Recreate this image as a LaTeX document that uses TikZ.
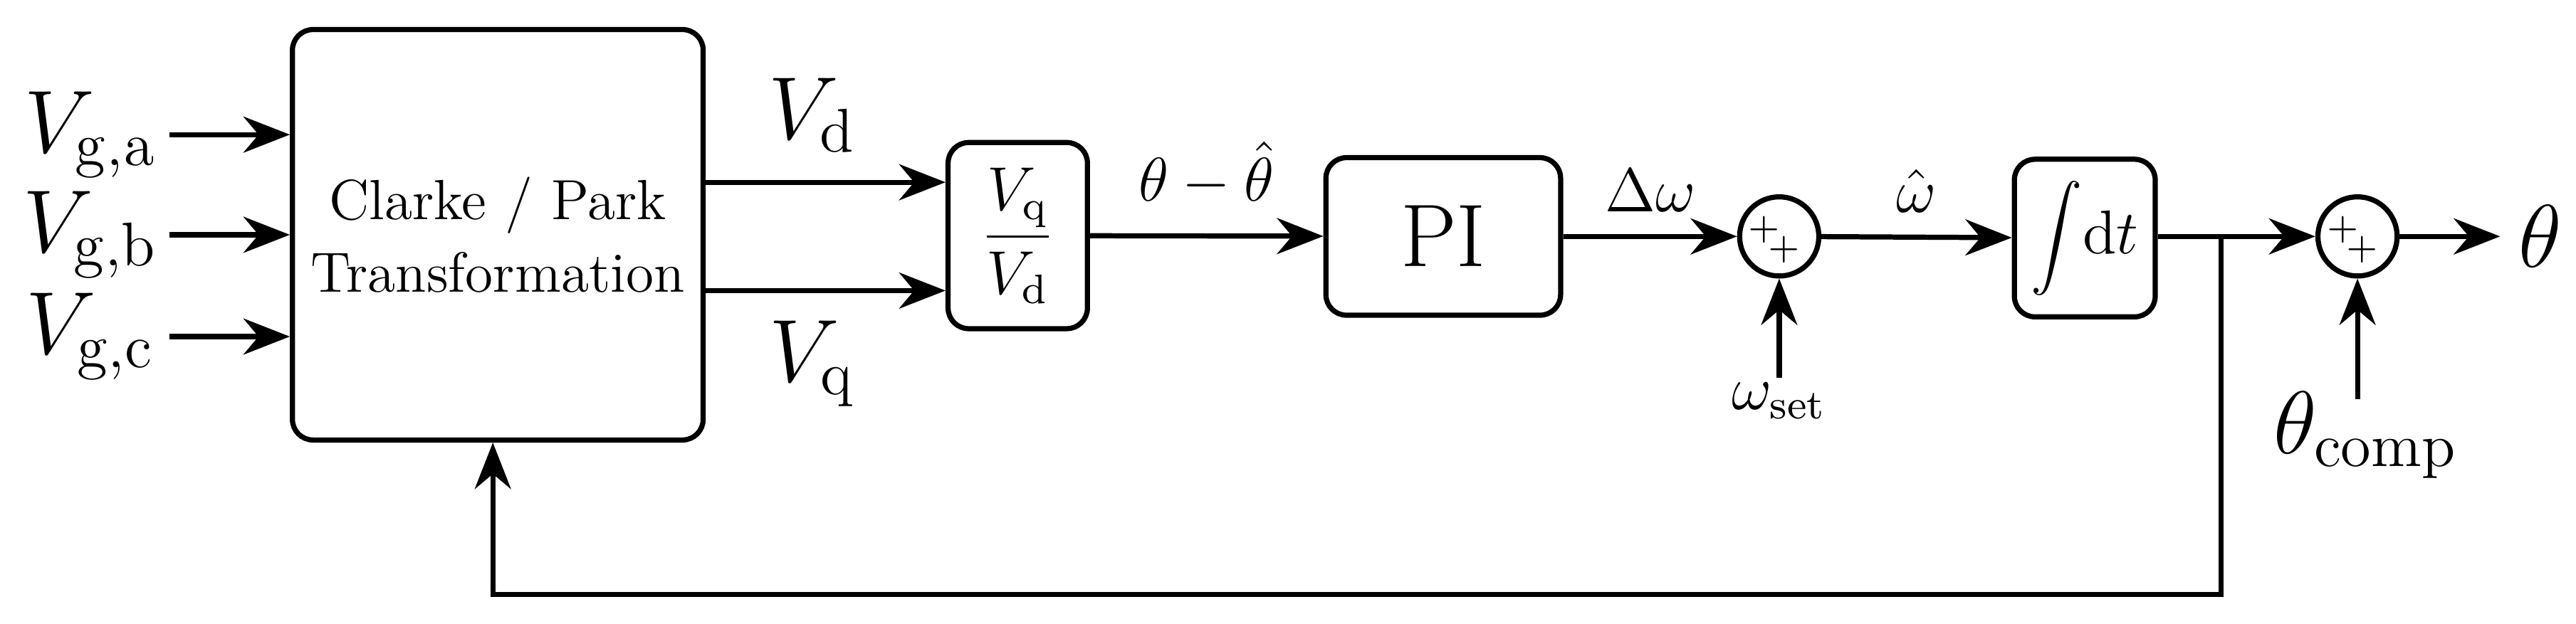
\documentclass[tikz,border=0pt]{standalone}
\usetikzlibrary{arrows.meta}
\begin{document}
\begin{tikzpicture}[x=0.0112cm,y=-0.0112cm,>={Stealth[length=9pt,width=7pt]},
  blk/.style={draw,line width=1pt,rounded corners=4pt,inner sep=0},
  sum/.style={draw,line width=1pt,circle,minimum size=0.54cm,inner sep=0},
  ln/.style={line width=1pt}]
\useasboundingbox (0,0) rectangle (1568,380);
\node[blk,minimum width=2.8cm,minimum height=2.8cm,align=center,font=\fontsize{11}{14}\selectfont] (cp) at (303,143) {Clarke / Park\\Transformation};
\node[blk,minimum width=0.95cm,minimum height=1.27cm] (fr) at (619.5,143.5) {\large$\displaystyle\frac{V_\mathrm{q}}{V_\mathrm{d}}$};
\node[blk,minimum width=1.6cm,minimum height=1.075cm] (pi) at (878.5,144) {\LARGE PI};
\node[sum] (s1) at (1083,144) {};
\node[blk,minimum width=0.96cm,minimum height=1.075cm] (int) at (1269,145) {\large$\displaystyle\int\!\mathrm{d}t$};
\node[sum] (s2) at (1435,144) {};
\foreach \s in {s1,s2}{
  \node[font=\scriptsize,inner sep=0] at ([shift={(-9,-4)}]\s.center) {$+$};
  \node[font=\scriptsize,inner sep=0] at ([shift={(3,8)}]\s.center) {$+$};}
\node[font=\LARGE] (va) at (55,82) {$V_{\mathrm{g,a}}$};
\node[font=\LARGE] (vb) at (55,143) {$V_{\mathrm{g,b}}$};
\node[font=\LARGE] (vc) at (55,205) {$V_{\mathrm{g,c}}$};
\coordinate (ia) at (103,82); \coordinate (ib) at (103,143); \coordinate (ic) at (103,205);
\draw[ln,->] (ia) -- (ia-|cp.west);
\draw[ln,->] (ib) -- (ib-|cp.west);
\draw[ln,->] (ic) -- (ic-|cp.west);
\coordinate (d0) at (428,111); \coordinate (q0) at (428,177);
\draw[ln,->] (d0) -- (d0-|fr.west) node[pos=0.45,above=2pt,font=\LARGE] (ld) {$V_\mathrm{d}$};
\draw[ln,->] (q0) -- (q0-|fr.west) node[pos=0.45,below=2pt,font=\LARGE] (lq) {$V_\mathrm{q}$};
\draw[ln,->] (fr) -- (pi) node[midway,above=2pt,font=\large] (le) {$\theta-\hat\theta$};
\draw[ln,->] (pi) -- (s1) node[midway,above=1pt,font=\large] (lw) {$\Delta\omega$};
\draw[ln,->] (s1) -- (int) node[midway,above=1pt,font=\large] (lh) {$\hat\omega$};
\coordinate (br) at (1352,144);
\draw[ln,->] (int.east|-br) -- (s2);
\draw[ln,->] (br) -- (1352,362) -- (300,362) -- (cp.south-|300,0);
\node[font=\LARGE] (th) at (1546,144) {$\theta$};
\draw[ln,->] (s2) -- (th);
\node[font=\large] (ws) at (1083,244) {$\omega_\mathrm{set}$};
\coordinate (wsb) at (1083,230);
\draw[ln,->] (wsb) -- (s1);
\node[font=\LARGE] (tc) at (1440,265) {$\theta_\mathrm{comp}$};
\coordinate (tcb) at (1435,243);
\draw[ln,->] (tcb) -- (s2);
\end{tikzpicture}
\end{document}
